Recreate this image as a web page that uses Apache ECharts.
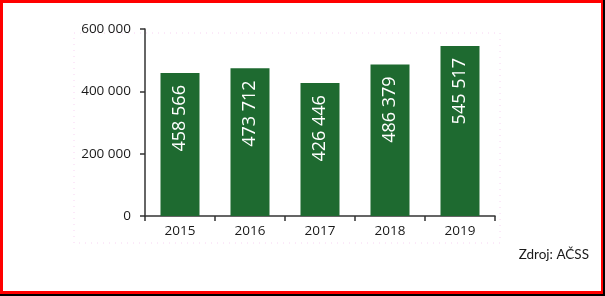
<!DOCTYPE html>
<html>
<head>
<meta charset="utf-8">
<script src="https://cdn.jsdelivr.net/npm/echarts@6/dist/echarts.min.js"></script>
<style>
  html, body { margin: 0; padding: 0; background: #000; }
  #frame { position: absolute; left: 0; top: 0; width: 603px; height: 294px; box-sizing: border-box;
           border-style: solid; border-color: #ff0000; border-width: 3px 2px 3px 3px; background: #fff; }
  #chart { position: absolute; left: 0; top: 0; width: 605px; height: 296px; }
</style>
</head>
<body>
<div id="frame"></div>
<div id="chart"></div>
<script>
const categories = ['2015', '2016', '2017', '2018', '2019'];
const values = [458566, 473712, 426446, 486379, 545517];
const yTicks = [0, 200000, 400000, 600000];
const sourceText = 'Zdroj: AČSS';

function fmt(v) {
  return String(Math.round(v)).replace(/\B(?=(\d{3})+(?!\d))/g, ' ');
}

const chart = echarts.init(document.getElementById('chart'), null, { renderer: 'canvas' });
chart.setOption({
  animation: false,
  backgroundColor: 'transparent',
  textStyle: { fontFamily: 'Open Sans' },
  grid: { left: 145, right: 110, top: 29, bottom: 80, containLabel: false },
  xAxis: {
    type: 'category',
    data: categories,
    boundaryGap: true,
    axisLine: { lineStyle: { color: '#333', width: 1.5 } },
    axisTick: { show: true, alignWithLabel: false, length: 5, lineStyle: { color: '#333', width: 1.5 } },
    axisLabel: { color: '#1a1a1a', fontSize: 13.5, margin: 8, fontFamily: 'Open Sans' }
  },
  yAxis: {
    type: 'value',
    min: yTicks[0],
    max: yTicks[yTicks.length - 1],
    interval: yTicks[1] - yTicks[0],
    axisLine: { show: true, lineStyle: { color: '#333', width: 1.5 } },
    axisTick: { show: true, length: 5, lineStyle: { color: '#333', width: 1.5 } },
    splitLine: { show: false },
    axisLabel: { color: '#1a1a1a', fontSize: 13.5, margin: 14, fontFamily: 'Open Sans', formatter: fmt }
  },
  series: [{
    type: 'bar',
    data: values,
    barWidth: 39,
    itemStyle: { color: '#1e6a30' },
    label: {
      show: true,
      position: 'insideTop',
      rotate: 90,
      align: 'right',
      verticalAlign: 'middle',
      distance: 12,
      color: '#ffffff',
      fontSize: 18,
      fontFamily: 'Open Sans',
      formatter: p => fmt(p.value)
    }
  }],
  graphic: [
    {
      type: 'rect', silent: true, z: -1,
      shape: { x: 74, y: 33, width: 426, height: 210 },
      style: { fill: 'none', stroke: '#f7d4f2', lineWidth: 1, lineDash: [1, 5] }
    },
    {
      type: 'text', right: 16, top: 248,
      style: { text: sourceText, fill: '#1a1a1a', fontSize: 13.5, fontFamily: 'Lato' }
    }
  ]
});
</script>
</body>
</html>
